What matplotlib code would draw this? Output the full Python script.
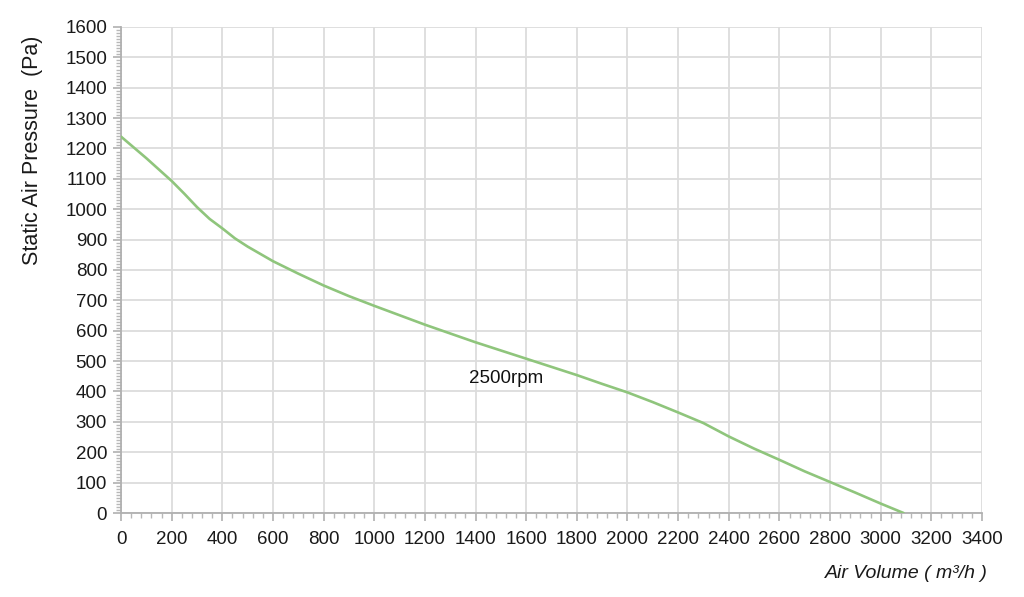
import matplotlib
matplotlib.use("Agg")
import matplotlib.pyplot as plt
from matplotlib.ticker import MultipleLocator

plt.rcParams['font.family'] = ['Liberation Sans', 'DejaVu Sans']

# fan curve, 2500 rpm
air_volume = [0, 100, 200, 250, 300, 350, 400, 450, 500, 600, 700, 800, 900,
              1000, 1200, 1400, 1600, 1800, 1900, 2000, 2100, 2200, 2300,
              2400, 2500, 2600, 2700, 2800, 2900, 3000, 3090]
pressure = [1239, 1168, 1093, 1051, 1007, 968, 937, 904, 877, 829, 788, 749, 714,
            682, 620, 562, 508, 454, 425, 397, 365, 331, 296,
            252, 212, 175, 137, 102, 67, 31, 0]
curve_label = "2500rpm"

fig = plt.figure(figsize=(10.24, 5.97), dpi=100)
ax = fig.add_axes([0.1182, 0.1407, 0.959 - 0.1182, 0.9548 - 0.1407])

ax.plot(air_volume, pressure, color='#8fc57c', lw=1.9, solid_capstyle='round',
        solid_joinstyle='round', zorder=3)
ax.text(1520, 444, curve_label, fontsize=13.5, ha='center', va='center', color='#111111')

ax.set_xlim(0, 3400)
ax.set_ylim(0, 1600)
ax.xaxis.set_major_locator(MultipleLocator(200))
ax.xaxis.set_minor_locator(MultipleLocator(40))
ax.yaxis.set_major_locator(MultipleLocator(100))
ax.yaxis.set_minor_locator(MultipleLocator(10))

ax.grid(True, which='major', color='#dcdcdc', lw=1.3)
ax.set_axisbelow(True)
for s in ['top', 'right']:
    ax.spines[s].set_visible(False)
for s in ['left', 'bottom']:
    ax.spines[s].set_color('#b0b0b0')
    ax.spines[s].set_linewidth(1.3)

ax.tick_params(which='major', length=6, width=1.2, color='#b0b0b0',
               labelsize=13.5, labelcolor='#1a1a1a')
ax.tick_params(which='minor', length=3.5, width=1.0, color='#b8b8b8')
ax.tick_params(axis='x', which='major', pad=7)
ax.tick_params(axis='y', which='major', pad=4)

fig.text(33 / 1024, 1 - 150 / 597, "Static Air Pressure  (Pa)", rotation=90,
         fontsize=15.5, ha='center', va='center', color='#1a1a1a')
fig.text(988 / 1024, 1 - 573 / 597, "Air Volume ( m³/h )", style='italic',
         fontsize=14, ha='right', va='center', color='#1a1a1a')

fig.savefig("out.png", dpi=100)
